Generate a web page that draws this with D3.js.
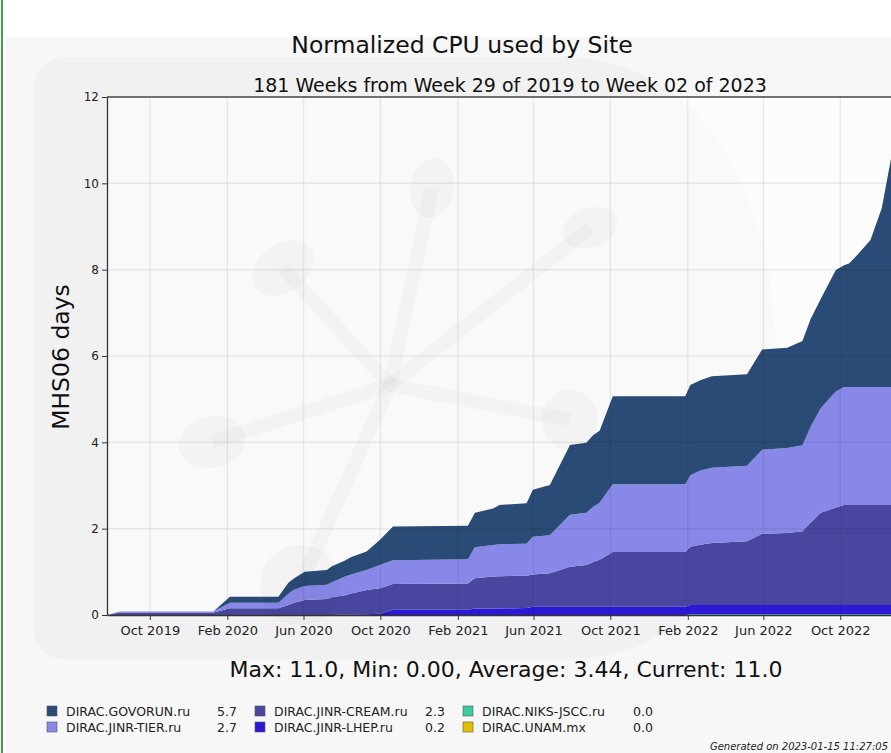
<!DOCTYPE html>
<html>
<head>
<meta charset="utf-8">
<script src="https://cdn.jsdelivr.net/npm/d3@7"></script>
<style>
body{margin:0;background:#fff;}
svg{display:block;font-family:"DejaVu Sans",sans-serif;}
</style>
</head>
<body>
<div id="plot"></div>
<script>
// cumulative values (MHS06 days) at the weeks where the slope changes
var weeks = ["2019-07-25","2019-08-14","2020-01-10","2020-02-05","2020-04-22","2020-05-08","2020-05-16","2020-06-03",
  "2020-07-08","2020-07-16","2020-08-06","2020-08-14","2020-09-09","2020-09-30","2020-10-21","2021-02-17",
  "2021-02-28","2021-03-29","2021-04-08","2021-05-21","2021-05-31","2021-06-27","2021-07-29","2021-08-24",
  "2021-09-04","2021-09-14","2021-10-05","2022-01-28","2022-02-05","2022-02-21","2022-03-11","2022-05-06",
  "2022-05-30","2022-07-09","2022-08-02","2022-08-15","2022-08-31","2022-09-24","2022-10-07","2022-10-15",
  "2022-10-28","2022-11-18","2022-12-06","2022-12-21","2023-01-09"];
var govorun = [0,0,0,0.135,0.135,0.26,0.26,0.33, 0.34,0.37,0.37,0.40,0.43,0.58,0.78,0.78,
  0.80,0.85,0.91,0.94,1.09,1.16,1.62,1.62, 1.66,1.67,2.04,2.04,2.09,2.09,2.12,2.12,
  2.32,2.32,2.42,2.50,2.53,2.81,2.82,2.86, 3.06,3.41,4.15,5.32,5.72];
var jinrTier = [0,0.02,0.02,0.13,0.13,0.26,0.30,0.32, 0.33,0.35,0.43,0.44,0.46,0.54,0.55,0.56,
  0.72,0.73,0.74,0.74,0.87,0.88,1.20,1.21, 1.28,1.32,1.57,1.57,1.66,1.72,1.74,1.75,
  1.95,1.97,1.99,2.22,2.42,2.69,2.73,2.73, 2.73,2.73,2.73,2.73,2.73];
var jinrCream = [0,0.06,0.06,0.155,0.155,0.23,0.28,0.35, 0.37,0.41,0.45,0.48,0.56,0.59,0.60,0.61,
  0.70,0.74,0.75,0.75,0.75,0.78,0.93,0.97, 1.04,1.09,1.27,1.27,1.35,1.40,1.44,1.48,
  1.65,1.67,1.71,1.91,2.14,2.26,2.32,2.32, 2.32,2.32,2.32,2.32,2.32];
var jinrLhep = [0,0,0,0,0,0,0,0, 0,0,0.01,0.01,0.02,0.03,0.12,0.12,
  0.15,0.15,0.15,0.16,0.19,0.19,0.19,0.19, 0.19,0.19,0.19,0.19,0.21,0.21,0.21,0.21,
  0.21,0.21,0.21,0.21,0.21,0.21,0.21,0.21, 0.21,0.21,0.21,0.21,0.21];
var niksJscc = [0,0,0,0,0,0,0,0, 0,0,0,0,0,0,0,0,
  0,0,0,0,0,0,0,0, 0,0,0,0,0.02,0.02,0.02,0.02,
  0.02,0.02,0.02,0.02,0.02,0.02,0.02,0.02, 0.02,0.02,0.02,0.02,0.02];
var unam = [0,0,0,0,0,0,0,0, 0,0,0,0,0,0,0,0,
  0,0,0,0,0,0,0,0, 0,0,0,0,0,0,0,0,
  0,0,0,0,0,0,0,0, 0,0,0,0,0];

// stacking order, bottom first
var sites = ["DIRAC.UNAM.mx","DIRAC.NIKS-JSCC.ru","DIRAC.JINR-LHEP.ru","DIRAC.JINR-CREAM.ru","DIRAC.JINR-TIER.ru","DIRAC.GOVORUN.ru"];
var siteValues = [unam, niksJscc, jinrLhep, jinrCream, jinrTier, govorun];
var colors = ["#e2bf00","#3ccaa4","#2c18d6","#4a46a0","#8888e8","#2a4b76"];

// legend, in the order of the picture (column by column)
var legendSites = ["DIRAC.GOVORUN.ru","DIRAC.JINR-TIER.ru","DIRAC.JINR-CREAM.ru","DIRAC.JINR-LHEP.ru","DIRAC.NIKS-JSCC.ru","DIRAC.UNAM.mx"];
var legendValues = ["5.7","2.7","2.3","0.2","0.0","0.0"];

var xTicks = ["2019-10-01","2020-02-01","2020-06-01","2020-10-01","2021-02-01","2021-06-01","2021-10-01","2022-02-01","2022-06-01","2022-10-01"];
var yTicks = [0,2,4,6,8,10,12];
var stats = {max:"11.0", min:"0.00", average:"3.44", current:"11.0"};

var W = 891, H = 753;
var margin = {t:97, l:107, b:138};
var parse = d3.utcParse("%Y-%m-%d");

var svg = d3.select('#plot').append('svg')
  .attr('width', W).attr('height', H);

// page background
svg.append('rect').attr('x',0).attr('y',0).attr('width',W).attr('height',H).attr('fill','#ffffff');
svg.append('rect').attr('x',6).attr('y',37).attr('width',W-6).attr('height',H-37).attr('fill','#f7f7f7');
svg.append('rect').attr('x',1).attr('y',0).attr('width',2).attr('height',H).attr('fill','#4c9a4c');

// faint logo watermark
var wm = svg.append('g').attr('fill','#f1f1f1').attr('stroke','none');
wm.append('path').attr('d','M33,95 Q33,57 71,57 L560,57 C700,57 775,190 775,350 C775,520 715,660 560,660 L71,660 Q33,660 33,622 Z');

var plotArea = svg.append('g');
var x = d3.scaleUtc()
  .domain([parse("2019-07-25"), parse("2023-01-15")])
  .range([margin.l, 907]);
var y = d3.scaleLinear().domain([0,12]).range([615, margin.t]);

plotArea.append('rect')
  .attr('x', margin.l).attr('y', margin.t)
  .attr('width', W - margin.l).attr('height', 615 - margin.t)
  .attr('fill','#ffffff').attr('fill-opacity',0.6);

// molecule of the watermark, seen through the plot background
var mol = svg.append('g').attr('fill','#000').attr('fill-opacity',0.022).attr('stroke','#000').attr('stroke-opacity',0.022);
var hub = [390, 385];
var blobs = [[283,268,34,24,-35],[432,188,22,30,10],[590,228,28,20,-20],[212,442,34,26,-15],[570,420,28,30,0],[300,585,40,40,0]];
blobs.forEach(function(b){
  mol.append('line').attr('x1',hub[0]).attr('y1',hub[1]).attr('x2',b[0]).attr('y2',b[1])
    .attr('stroke-width',14).attr('fill','none');
  mol.append('ellipse').attr('cx',b[0]).attr('cy',b[1]).attr('rx',b[2]).attr('ry',b[3])
    .attr('transform','rotate('+b[4]+','+b[0]+','+b[1]+')').attr('stroke','none');
});

// stacked areas
var table = weeks.map(function(w,i){
  var row = {date: parse(w)};
  sites.forEach(function(s,k){ row[s] = siteValues[k][i]; });
  return row;
});
var series = d3.stack().keys(sites)(table);
var area = d3.area()
  .x(function(d){ return x(d.data.date); })
  .y0(function(d){ return y(d[0]); })
  .y1(function(d){ return y(d[1]); });

plotArea.selectAll('path.layer').data(series).enter().append('path')
  .attr('class','layer')
  .attr('d', area)
  .attr('fill', function(d,i){ return colors[i]; });

// grid on top, faint
var grid = svg.append('g').attr('stroke','#000').attr('stroke-opacity',0.07).attr('stroke-width',1.5);
grid.selectAll('line.h').data(yTicks.slice(1,-1)).enter().append('line')
  .attr('x1',margin.l).attr('x2',W).attr('y1',function(d){return y(d);}).attr('y2',function(d){return y(d);});
grid.selectAll('line.v').data(xTicks).enter().append('line')
  .attr('y1',margin.t).attr('y2',615).attr('x1',function(d){return x(parse(d));}).attr('x2',function(d){return x(parse(d));});

// axes
var xAxis = d3.axisBottom(x).tickValues(xTicks.map(parse)).tickFormat(d3.utcFormat("%b %Y")).tickSize(5).tickSizeOuter(0);
var yAxis = d3.axisLeft(y).tickValues(yTicks).tickFormat(d3.format("d")).tickSize(5).tickSizeOuter(0);

var gx = svg.append('g').attr('transform','translate(0,615)').call(xAxis);
var gy = svg.append('g').attr('transform','translate('+margin.l+',0)').call(yAxis);
[gx, gy].forEach(function(g){
  g.selectAll('text').attr('font-size',12).attr('font-family','"DejaVu Sans",sans-serif').attr('fill','#222');
  g.selectAll('line').attr('stroke','#333');
  g.select('.domain').attr('stroke','#333').attr('stroke-width',1.3);
});
gx.selectAll('text').attr('font-size',13).attr('dy','0.95em');
svg.append('line').attr('x1',margin.l).attr('x2',W).attr('y1',margin.t).attr('y2',margin.t)
  .attr('stroke','#444').attr('stroke-width',1.3);

// titles
svg.append('text').attr('x',462).attr('y',53).attr('text-anchor','middle')
  .attr('font-size',23.5).attr('fill','#111')
  .text('Normalized CPU used by Site');
svg.append('text').attr('x',510).attr('y',92).attr('text-anchor','middle')
  .attr('font-size',19).attr('fill','#111')
  .text('181 Weeks from Week 29 of 2019 to Week 02 of 2023');
svg.append('text').attr('transform','translate(69,357) rotate(-90)').attr('text-anchor','middle')
  .attr('font-size',23.5).attr('fill','#111')
  .text('MHS06 days');
svg.append('text').attr('x',506).attr('y',677).attr('text-anchor','middle')
  .attr('font-size',22).attr('fill','#111')
  .text('Max: '+stats.max+', Min: '+stats.min+', Average: '+stats.average+', Current: '+stats.current);

// legend
var legend = svg.append('g').attr('font-size',12.5).attr('fill','#222');
legendSites.forEach(function(s,i){
  var col = Math.floor(i/2), row = i%2;
  var lx = 47 + col*208, ly = 706 + row*16;
  legend.append('rect').attr('x',lx).attr('y',ly).attr('width',10).attr('height',10)
    .attr('fill', colors[sites.indexOf(s)]).attr('stroke','#555').attr('stroke-width',0.6);
  legend.append('text').attr('x',lx+19).attr('y',ly+9.5).text(s);
  legend.append('text').attr('x',lx+170).attr('y',ly+9.5).text(legendValues[i]);
});

svg.append('text').attr('x',888).attr('y',750).attr('text-anchor','end')
  .attr('font-size',10).attr('font-style','italic').attr('fill','#222')
  .text('Generated on 2023-01-15 11:27:05');
</script>
</body>
</html>
